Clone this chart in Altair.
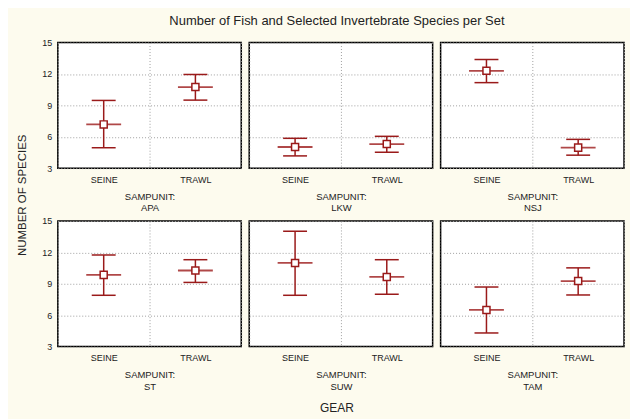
import altair as alt
import pandas as pd

units = ["APA", "LKW", "NSJ", "ST", "SUW", "TAM"]
gears = ["SEINE", "TRAWL"]
seine_mean = [7.18, 5.02, 12.3, 9.85, 10.99, 6.5]
seine_low = [4.95, 4.17, 11.17, 7.9, 7.9, 4.3]
seine_high = [9.47, 5.85, 13.38, 11.75, 14.02, 8.69]
trawl_mean = [10.75, 5.3, 4.96, 10.27, 9.65, 9.26]
trawl_low = [9.5, 4.52, 4.24, 9.13, 8.0, 7.93]
trawl_high = [11.95, 6.04, 5.75, 11.3, 11.3, 10.52]
y_ticks = [3, 6, 9, 12, 15]

rows = []
for i, u in enumerate(units):
    rows.append({"unit": u, "gear": "SEINE", "mean": seine_mean[i], "low": seine_low[i], "high": seine_high[i]})
    rows.append({"unit": u, "gear": "TRAWL", "mean": trawl_mean[i], "low": trawl_low[i], "high": trawl_high[i]})
df = pd.DataFrame(rows)

RED = "#9A1A1A"
RED2 = "#B04848"
FONT = "Liberation Sans"
W, H = 184, 126


def panel(i, unit):
    d = df[df["unit"] == unit]
    show_y = (i % 3 == 0)
    xaxis = alt.Axis(
        title=["SAMPUNIT:", unit], labelAngle=0, ticks=False, domain=False,
        grid=True, tickBand="extent", gridColor="#a0a0a0", gridDash=[1, 2],
        labelFontSize=9, labelPadding=7, titleFontSize=9.5, titlePadding=7,
        titleFontWeight="normal", titleLineHeight=12,
    )
    base = alt.Chart(d).encode(
        x=alt.X("gear:N", sort=gears,
                scale=alt.Scale(domain=gears, paddingInner=0, paddingOuter=0),
                axis=xaxis)
    )
    yscale = alt.Scale(domain=[3, 15], nice=False, zero=False)
    yaxis = alt.Axis(values=y_ticks, ticks=False, domain=False, grid=True,
                     gridColor="#a0a0a0", gridDash=[1, 2], labelFontSize=9,
                     labelPadding=6, labels=show_y, labelOverlap=False)

    def Y(field):
        return alt.Y(field, type="quantitative", scale=yscale, axis=yaxis, title=None)

    rule = base.mark_rule(color=RED, strokeWidth=1.5).encode(y=Y("low"), y2="high:Q")
    cap_lo = base.mark_tick(color=RED, size=24, thickness=1.5, opacity=1).encode(y=Y("low"))
    cap_hi = base.mark_tick(color=RED, size=24, thickness=1.5, opacity=1).encode(y=Y("high"))
    mean_bar = base.mark_tick(color=RED2, size=35, thickness=1.8, opacity=1).encode(y=Y("mean"))
    pt = base.mark_point(shape="square", size=50, filled=True, fill="white",
                         stroke=RED, strokeWidth=1.5, opacity=1).encode(y=Y("mean"))
    return alt.layer(rule, cap_lo, cap_hi, mean_bar, pt).properties(width=W, height=H)


panels = [panel(i, u) for i, u in enumerate(units)]

row1 = alt.hconcat(*panels[:3], spacing=6,
                   title=alt.TitleParams("Number of Fish and Selected Invertebrate Species per Set",
                                         orient="top", anchor="middle", dx=4,
                                         fontSize=13, fontWeight="normal", offset=10))
row2 = alt.hconcat(*panels[3:], spacing=6,
                   title=alt.TitleParams("GEAR", orient="bottom", anchor="middle", dx=4,
                                         fontSize=12, fontWeight="normal", offset=11))
chart = alt.vconcat(row1, row2, spacing=2,
                    title=alt.TitleParams("NUMBER OF SPECIES", orient="left", anchor="middle",
                                          fontSize=11.5, fontWeight="normal", offset=13,
                                          dx=19))

chart = chart.properties(
    background="#FDFBEE",
    padding={"left": 8, "top": 6, "right": 5, "bottom": 5},
).configure_view(
    fill="white", stroke="black", strokeWidth=1.5
).configure_axis(
    labelFont=FONT, titleFont=FONT, labelColor="#222", titleColor="#222"
).configure_title(
    font=FONT, color="#222"
)

chart.save("out.html", embed_options={"renderer": "svg", "actions": False})
